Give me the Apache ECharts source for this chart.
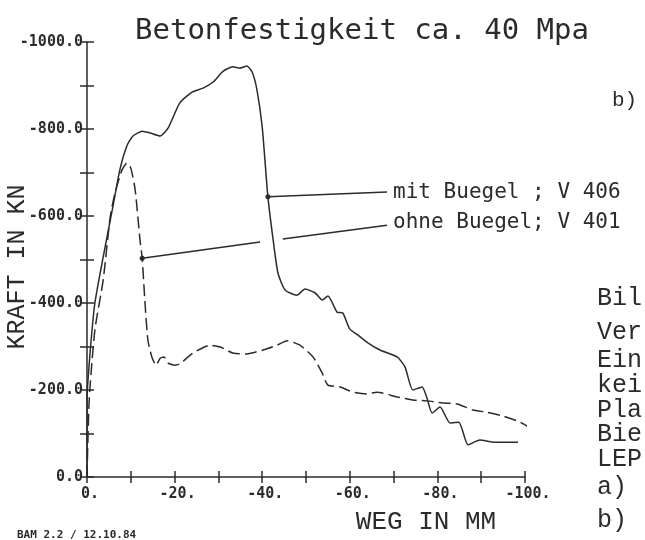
<!DOCTYPE html>
<html>
<head>
<meta charset="utf-8">
<title>Betonfestigkeit ca. 40 Mpa</title>
<script src="https://cdn.jsdelivr.net/npm/echarts@6/dist/echarts.min.js"></script>
<style>
  html, body { margin: 0; padding: 0; background: #fff; }
  #the-chart { width: 645px; height: 540px; }
</style>
</head>
<body>
<div id="the-chart"></div>
<script>
/**
 * Kraft-Weg-Kurven, Betonfestigkeit ca. 40 Mpa
 */

// mit Buegel ; V 406  [Weg mm, Kraft kN]
const mitBuegel = [
  [0, 0], [0, -177], [-0.7, -285], [-1.8, -400], [-3.7, -506], [-5.9, -621],
  [-7.5, -706], [-9.1, -761], [-10.5, -784], [-12.6, -795], [-14.4, -791],
  [-16.7, -784], [-18.5, -802], [-21.2, -860], [-24.0, -885], [-26.5, -894],
  [-28.8, -908], [-31.1, -933], [-33.3, -943], [-34.9, -940], [-36.5, -945],
  [-37.7, -931], [-38.8, -890], [-40.0, -805], [-41.3, -644], [-42.5, -545],
  [-43.6, -469], [-45.2, -430], [-47.9, -418], [-49.8, -432], [-52.1, -423],
  [-53.7, -407], [-55.0, -416], [-57.1, -379], [-58.4, -377], [-60.0, -340],
  [-61.9, -326], [-64.2, -308], [-66.9, -292], [-70.8, -276], [-72.6, -253],
  [-74.4, -200], [-76.5, -207], [-77.6, -182], [-78.8, -147], [-80.6, -161],
  [-82.9, -124], [-84.9, -126], [-87.0, -74], [-89.7, -85], [-92.7, -80],
  [-95.9, -80], [-98.4, -80],
];

// ohne Buegel; V 401
const ohneBuegel = [
  [0, 0], [-0.5, -177], [-1.8, -338], [-3.7, -453], [-5.3, -598], [-6.4, -653],
  [-8.0, -706], [-9.1, -722], [-10.0, -710], [-11.0, -660], [-12.1, -545],
  [-12.6, -503], [-13.2, -407], [-13.9, -315], [-14.8, -276], [-15.8, -257],
  [-16.7, -273], [-17.6, -276], [-18.5, -262], [-20.1, -257], [-21.2, -260],
  [-24.2, -285], [-28.1, -303], [-30.4, -299], [-33.3, -285], [-36.5, -283],
  [-40.2, -292], [-43.4, -303], [-45.7, -313], [-48.6, -303], [-51.6, -276],
  [-53.7, -239], [-55.0, -211], [-57.8, -207], [-60.7, -195], [-63.9, -191],
  [-66.2, -195], [-70.8, -184], [-74.4, -177], [-77.6, -175], [-81.3, -170],
  [-84.5, -168], [-88.1, -154], [-91.3, -149], [-95.0, -140], [-98.9, -126],
  [-103.0, -101],
];

// Beschriftungslinien (Punkt auf Kurve -> Text)
const leaderMit = [[-41.3, -644], [-68.5, -655]];
const leaderOhne = [[-12.6, -503], [-39.5, -540], '-', [-44.7, -547], [-68.5, -579]];

const seriesNames = ['mit Buegel ; V 406', 'ohne Buegel; V 401'];

// Seitentext rechts (abgeschnitten)
const sideLines = ['Bil', 'Ver', 'Ein', 'kei', 'Pla', 'Bie', 'LEP', 'a)', 'b)'];
const sideLineY = [298, 332, 360, 385, 410, 434, 459, 487, 520];

const plotFont = 'DejaVu Sans Mono';
const typeFont = 'Liberation Mono';
const ink = '#2b2b2b';

const myChart = echarts.init(document.getElementById('the-chart'), null, { renderer: 'canvas' });

function leaderData(points) {
  // nur am Anfang ein Punkt auf der Kurve
  return points.map((p, i) => {
    if (p === '-') return p;
    return { value: p, symbol: i === 0 ? 'circle' : 'none', symbolSize: 5 };
  });
}

function leaderSeries(name, points) {
  return {
    name: name,
    type: 'line',
    data: leaderData(points),
    connectNulls: false,
    itemStyle: { color: ink },
    lineStyle: { color: ink, width: 1.5 },
  };
}

function baseAxis(extra) {
  return Object.assign({
    type: 'value',
    inverse: true,
    splitLine: { show: false },
    axisLine: { show: true, onZero: false, lineStyle: { color: ink, width: 1.5 } },
  }, extra);
}

let option = {
  animation: false,
  backgroundColor: '#fff',
  title: {
    text: 'Betonfestigkeit ca. 40 Mpa',
    left: 130,
    top: 12,
    textStyle: { fontFamily: plotFont, fontSize: 29, fontWeight: 'normal', color: ink },
  },
  grid: { left: 87, right: 120, top: 42, bottom: 63, containLabel: false },
  xAxis: [
    baseAxis({
      min: -100, max: 0, interval: 10,
      axisTick: { show: true, inside: false, length: 6, lineStyle: { color: ink, width: 1.5 } },
      axisLabel: {
        margin: 10,
        fontFamily: plotFont, fontWeight: 'bold', fontSize: 15, color: ink,
        padding: [0, 0, 0, 6],
        formatter: (v) => (Math.abs(v) % 20 === 0 ? v + '.' : ''),
        showMinLabel: true, showMaxLabel: true,
      },
    }),
    // zweite Achse nur fuer Striche nach innen
    baseAxis({
      min: -100, max: 0, interval: 10, position: 'bottom',
      axisLine: { show: false },
      axisTick: { show: true, inside: true, length: 6, lineStyle: { color: ink, width: 1.5 } },
      axisLabel: { show: false },
    }),
  ],
  yAxis: [
    baseAxis({
      min: -1000, max: 0, interval: 100,
      axisTick: { show: true, inside: false, length: 7, lineStyle: { color: ink, width: 1.5 } },
      axisLabel: {
        margin: 4,
        fontFamily: plotFont, fontWeight: 'bold', fontSize: 15, color: ink,
        formatter: (v) => (Math.abs(v) % 200 === 0 ? v.toFixed(1) : ''),
        showMinLabel: true, showMaxLabel: true,
      },
    }),
    baseAxis({
      min: -1000, max: 0, interval: 100, position: 'left',
      axisLine: { show: false },
      axisTick: { show: true, inside: true, length: 7, lineStyle: { color: ink, width: 1.5 } },
      axisLabel: { show: false },
    }),
  ],
  graphic: [
    {
      type: 'text', left: 612, top: 90,
      style: { text: 'b)', font: '21px "' + typeFont + '"', fill: ink },
    },
    {
      type: 'text', x: 17, y: 267, rotation: Math.PI / 2,
      style: { text: 'KRAFT IN KN', font: '25px "' + typeFont + '"', fill: ink, align: 'center', verticalAlign: 'middle' },
    },
    {
      type: 'text', x: 426, y: 522,
      style: { text: 'WEG IN MM', font: '26px "' + typeFont + '"', fill: ink, align: 'center', verticalAlign: 'middle' },
    },
    {
      type: 'text', x: 17, y: 535,
      style: { text: 'BAM 2.2 / 12.10.84', font: 'bold 11px "' + plotFont + '"', fill: ink, verticalAlign: 'middle' },
    },
  ].concat(sideLines.map((t, i) => ({
    type: 'text', x: 597, y: sideLineY[i],
    style: { text: t, font: '25px "' + typeFont + '"', fill: ink, verticalAlign: 'middle' },
  }))),
  series: [
    {
      name: seriesNames[0],
      type: 'line',
      data: mitBuegel,
      showSymbol: false,
      smooth: 0.2,
      clip: false,
      lineStyle: { color: ink, width: 1.5 },
    },
    {
      name: seriesNames[1],
      type: 'line',
      data: ohneBuegel,
      showSymbol: false,
      smooth: 0.2,
      clip: false,
      lineStyle: { color: ink, width: 1.5, type: [12, 5] },
    },
    leaderSeries('leader-mit', leaderMit),
    leaderSeries('leader-ohne', leaderOhne),
  ],
};

option && myChart.setOption(option);

// Text rechts neben dem Ende der Beschriftungslinien
function addLeaderTexts() {
  let ends = [leaderMit[leaderMit.length - 1], leaderOhne[leaderOhne.length - 1]];
  let nudge = [0, -3];
  let texts = ends.map((p, i) => {
    let px = myChart.convertToPixel({ gridIndex: 0 }, p);
    return {
      type: 'text', x: px[0] + 6, y: px[1] + nudge[i],
      style: { text: seriesNames[i], font: '21px "' + plotFont + '"', fill: ink, verticalAlign: 'middle' },
    };
  });
  myChart.setOption({ graphic: option.graphic.concat(texts) });
}
addLeaderTexts();
</script>
</body>
</html>
